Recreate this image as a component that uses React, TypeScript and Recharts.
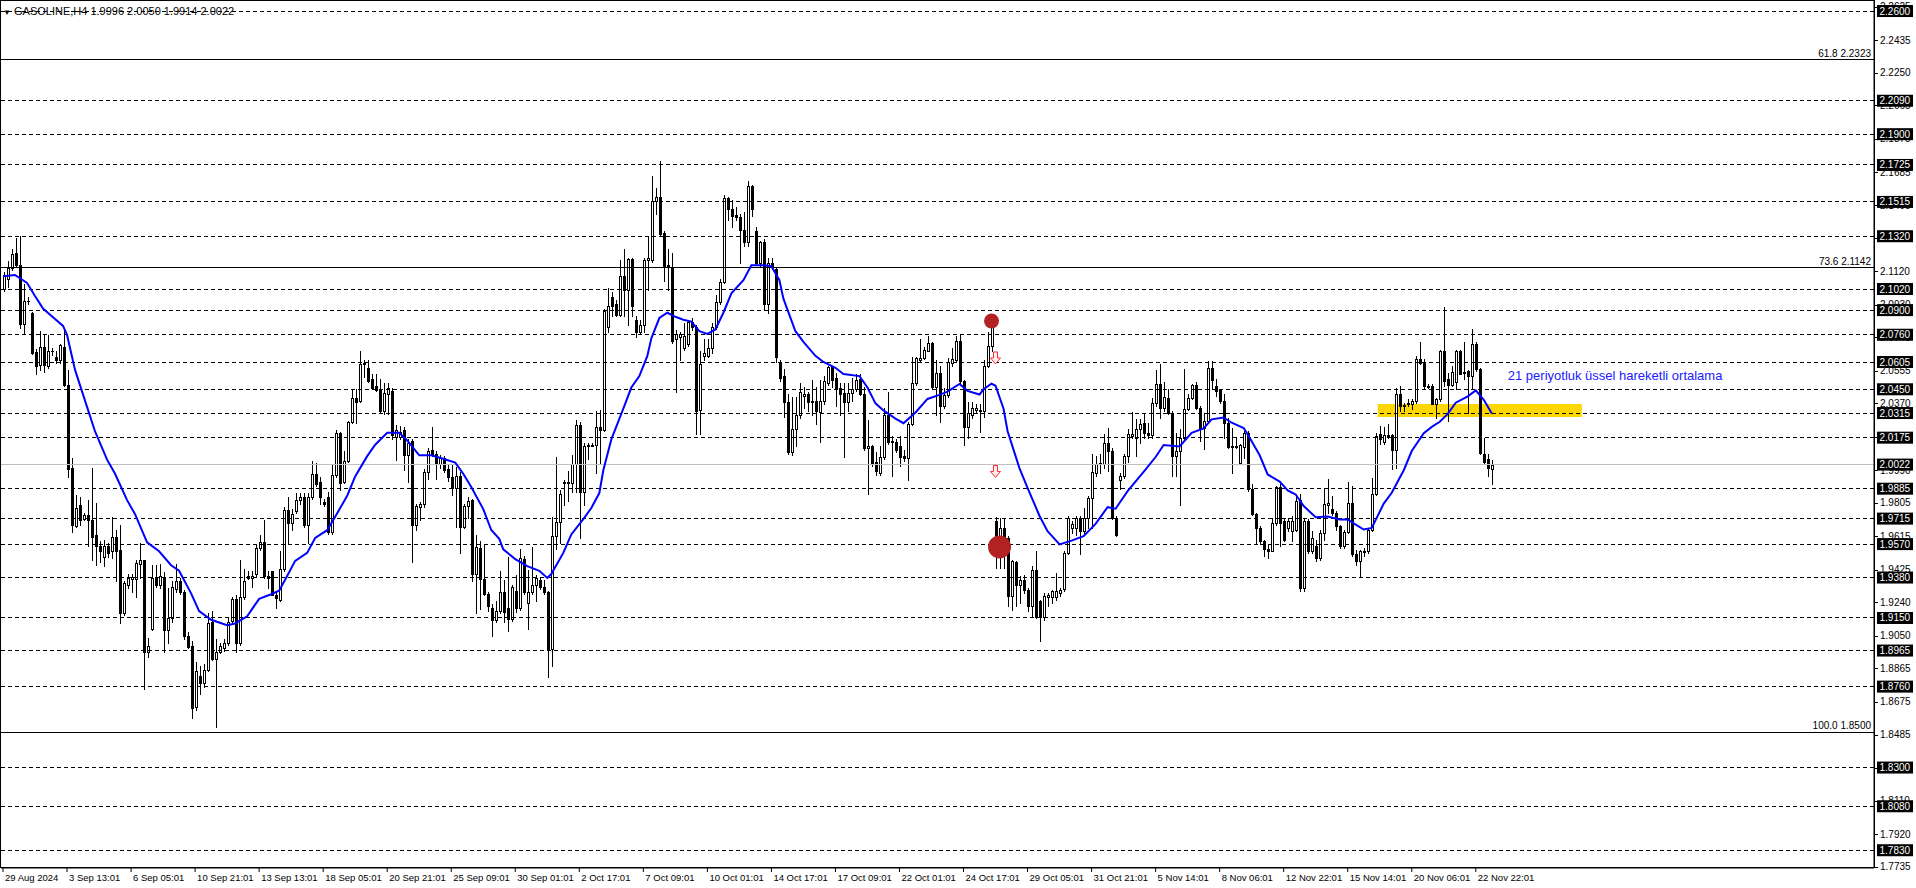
import React from 'react';
import { ComposedChart, Bar, Line, XAxis, YAxis, ReferenceLine, ReferenceArea, ReferenceDot } from 'recharts';

// GASOLINE H4 candles, prices stored as price x 10000
const opens = [
  21019,21079,21139,21223,21155,20819,20949,20883,20663,20589,20689,20583,20667,20635,20619,20689,20475,20003,19673,19793,
  19713,19737,19709,19623,19559,19499,19559,19529,19609,19539,19179,19339,19373,19369,19459,19479,18959,19089,19379,19339,
  19383,19079,19149,19313,19359,19299,19049,18989,18643,18819,18783,18855,19127,18919,18959,18979,19009,19135,19259,19009,
  19269,19379,19379,19399,19549,19583,19389,19419,19283,19255,19429,19763,19689,19759,19819,19839,19679,19839,19969,19923,
  19809,19839,19639,19963,20203,19923,20043,20263,20399,20383,20593,20569,20509,20467,20449,20329,20423,20439,20179,20179,
  20219,20075,20155,19679,19779,19799,19979,20103,20083,20023,20059,19999,19949,19889,19955,19669,19789,19819,19399,19549,
  19369,19289,19209,19139,19189,19295,19205,19145,19305,19205,19485,19235,19295,19335,19365,19325,19295,18975,19615,19695,
  19915,19915,19915,20025,20249,19865,20125,20129,20135,20235,20221,20805,20975,20935,20875,21095,21015,21189,20845,20775,
  20815,21185,21185,21521,21545,21341,21155,21145,20735,20745,20685,20705,20835,20805,20335,20641,20641,20685,20805,20945,
  21061,21535,21475,21441,21429,21355,21285,21605,21349,21165,21285,20935,21165,21135,20601,20525,20375,20095,20225,20305,
  20409,20421,20375,20385,20321,20385,20485,20575,20515,20455,20429,20375,20429,20449,20509,20425,20115,20129,20035,19975,
  20065,20305,20155,20149,20125,20071,20061,20255,20485,20615,20629,20669,20715,20465,20545,20355,20415,20601,20615,20725,
  20495,20235,20305,20335,20335,20325,20585,20695,19700,19568,19662,19606,19273,19469,19340,19368,19311,19216,19425,19245,
  19154,19268,19268,19268,19292,19315,19520,19659,19659,19719,19643,19719,19833,19976,20023,20027,20146,20099,19719,19932,
  19957,20071,20184,20175,20222,20260,20203,20190,20374,20479,20346,20399,20317,20071,20099,20175,20336,20399,20475,20346,
  20232,20270,20570,20469,20444,20384,20260,20122,20128,20033,20122,20203,19881,19742,19659,19587,19545,19533,19691,19894,
  19700,19659,19643,19653,19818,19321,19704,19530,19558,19492,19634,19795,19767,19748,19672,19558,19640,19805,19511,19473,
  19526,19530,19653,19852,20194,20152,20184,20190,20103,20425,20355,20365,20369,20384,20621,20602,20469,20469,20365,20393,
  20668,20507,20475,20494,20665,20545,20555,20526,20706,20564,20080,20052,19996,
];
const highs = [
  21119,21179,21249,21309,21319,21049,20975,20889,20679,20779,20759,20759,20687,20669,20709,20799,20559,20059,19849,19839,
  19745,19819,20003,19805,19589,19593,19579,19723,19649,19679,19359,19399,19399,19479,19579,19479,19039,19449,19449,19459,
  19409,19319,19359,19459,19379,19309,19069,19019,18899,18879,18889,19179,19189,19029,19009,19029,19149,19269,19279,19479,
  19429,19419,19419,19569,19619,19709,19419,19419,19299,19529,19779,19839,19769,19859,19859,19863,19859,20043,20029,19949,
  19829,19869,20019,20219,20209,20099,20269,20449,20449,20669,20619,20619,20539,20539,20509,20483,20483,20459,20249,20243,
  20235,20169,20169,19799,19809,19999,20119,20235,20099,20079,20069,20019,20019,20009,19979,19799,19839,19829,19619,19589,
  19569,19299,19229,19249,19419,19365,19495,19335,19395,19545,19505,19425,19555,19395,19375,19365,19305,19725,20065,19875,
  19935,19985,20075,20275,20265,20145,20145,20145,20325,20335,20905,21025,21005,20955,21185,21245,21195,21195,20865,20841,
  21195,21315,21665,21595,21745,21349,21245,21225,20785,20775,20825,20845,20855,20815,20669,20735,20735,20825,20985,21075,
  21555,21545,21525,21485,21445,21455,21635,21609,21375,21295,21305,21195,21195,21145,20615,20565,20425,20405,20405,20485,
  20465,20435,20505,20465,20505,20525,20585,20585,20545,20485,20485,20485,20515,20535,20535,20465,20275,20135,20095,20125,
  20345,20435,20185,20165,20185,20105,20265,20635,20635,20735,20689,20755,20721,20615,20585,20455,20625,20685,20755,20765,
  20505,20375,20375,20365,20365,20615,20775,20835,19725,19719,19719,19615,19482,19476,19387,19397,19321,19444,19530,19254,
  19292,19292,19311,19406,19321,19530,19729,19700,19729,19729,19776,19843,20084,20071,20080,20198,20232,20118,19729,19976,
  20084,20222,20323,20279,20279,20308,20260,20399,20558,20592,20494,20450,20327,20203,20222,20564,20422,20479,20494,20355,
  20317,20611,20611,20507,20450,20422,20289,20232,20175,20137,20213,20213,19909,19748,19672,19596,19567,19719,19900,19909,
  19710,19719,19729,19843,19852,19719,19710,19643,19596,19653,19881,19938,19843,19757,19681,19653,19924,19900,19539,19539,
  19549,19659,19947,20203,20241,20236,20255,20194,20456,20469,20374,20393,20393,20640,20716,20621,20479,20479,20403,20672,
  20919,20545,20583,20672,20672,20716,20558,20792,20721,20570,20175,20080,20050,
];
const lows = [
  21009,21029,21129,21149,20799,20769,20935,20649,20539,20559,20549,20569,20647,20599,20599,20469,19949,19639,19669,19679,
  19705,19559,19479,19449,19469,19443,19499,19489,19359,19123,19169,19319,19299,19269,19379,18749,18929,19079,19329,19319,
  18959,19009,19129,19299,19289,19029,18979,18579,18629,18719,18759,18849,18909,18529,18949,18963,18999,19129,18959,18999,
  19259,19369,19329,19389,19539,19379,19319,19279,19209,19249,19419,19579,19649,19749,19799,19669,19579,19829,19899,19799,
  19789,19629,19629,19949,19879,19919,20039,20259,20259,20379,20519,20489,20449,20439,20319,20309,20309,20169,20049,20169,
  19989,19923,19469,19649,19709,19779,19939,20069,19939,20003,19979,19929,19849,19669,19519,19659,19719,19359,19179,19199,
  19279,19189,19049,19129,19179,19125,19075,19135,19185,19195,19285,19085,19285,19245,19315,19285,18815,18875,19545,19575,
  19795,19815,19865,19865,19605,19795,20055,20125,19975,20025,20215,20775,20865,20865,20865,20865,20815,20865,20745,20765,
  20775,21015,21175,21445,21325,21065,21015,20715,20435,20615,20675,20695,20785,20195,20195,20615,20635,20655,20795,20935,
  21055,21415,21375,21415,21165,21265,21265,21435,21155,21145,20905,20885,21135,20605,20495,20295,20085,20075,20125,20285,
  20345,20325,20305,20255,20149,20365,20475,20465,20355,20305,20065,20325,20385,20441,20415,20105,19855,20015,19965,19965,
  20055,20141,19955,20095,20015,20045,19935,20245,20475,20605,20621,20665,20455,20305,20265,20345,20405,20585,20605,20485,
  20135,20175,20285,20315,20205,20295,20575,20665,19435,19435,19435,19216,19197,19216,19235,19292,19188,19159,19150,19017,
  19140,19216,19235,19254,19273,19302,19511,19634,19624,19511,19624,19662,19662,19957,19976,20004,19985,19710,19615,19881,
  19947,20038,20175,20071,20146,20175,20175,20175,20355,20289,20327,20308,19957,19957,19795,20165,20330,20393,20336,20156,
  20108,20260,20460,20412,20374,20175,20118,19976,20118,20023,20061,19871,19738,19577,19568,19501,19492,19530,19681,19558,
  19587,19643,19587,19643,19302,19302,19520,19520,19473,19482,19596,19748,19738,19653,19549,19549,19634,19501,19454,19387,
  19501,19520,19643,19848,20137,20141,20175,19995,20004,20327,20327,20355,20336,20374,20596,20460,20460,20365,20289,20384,
  20469,20270,20469,20450,20535,20507,20317,20460,20555,20080,20033,19957,19914,
];
const closes = [
  21099,21139,21219,21155,20823,20949,20953,20659,20583,20689,20589,20669,20667,20619,20699,20475,19999,19679,19773,19709,
  19735,19709,19609,19559,19529,19559,19519,19609,19529,19179,19349,19379,19383,19463,19479,18959,18989,19379,19339,19389,
  19079,19149,19329,19359,19299,19049,18983,18639,18849,18779,18855,19123,18919,18959,18989,19009,19129,19259,19009,19269,
  19363,19389,19389,19549,19583,19389,19379,19283,19263,19429,19763,19689,19739,19819,19839,19679,19839,19969,19909,19839,
  19799,19639,19963,20199,19919,20043,20263,20399,20379,20593,20599,20499,20459,20447,20329,20429,20455,20189,20219,20209,
  20075,20143,19679,19789,19799,19979,20099,20079,20023,20059,19989,19949,19889,19955,19669,19789,19815,19399,19555,19369,
  19289,19219,19139,19189,19299,19185,19145,19325,19205,19489,19295,19295,19335,19375,19325,19295,18975,19615,19695,19855,
  19921,19925,20025,20249,19865,20125,20135,20135,20235,20221,20895,20925,20925,20875,21095,21015,21189,20925,20775,20815,
  21185,21195,21521,21545,21335,21145,21145,20725,20765,20765,20755,20835,20805,20325,20595,20655,20685,20805,20945,21061,
  21535,21475,21435,21429,21355,21285,21605,21475,21165,21285,20935,21165,21149,20635,20515,20375,20095,20225,20305,20435,
  20421,20375,20385,20325,20385,20495,20575,20505,20455,20425,20375,20429,20449,20505,20421,20115,20129,20025,19985,20065,
  20305,20149,20149,20105,20065,20061,20255,20485,20625,20629,20675,20715,20465,20545,20355,20415,20605,20621,20725,20495,
  20235,20315,20341,20345,20325,20585,20695,20805,19580,19662,19606,19273,19473,19340,19368,19311,19216,19425,19154,19154,
  19273,19283,19302,19302,19311,19520,19719,19685,19719,19643,19719,19833,19981,20023,20029,20146,20099,19719,19624,19957,
  20071,20198,20198,20222,20255,20203,20190,20374,20479,20346,20406,20317,20071,20099,20175,20336,20399,20475,20346,20232,
  20270,20570,20501,20441,20384,20260,20122,20128,20122,20133,20203,19881,19742,19659,19587,19545,19533,19691,19894,19691,
  19596,19704,19704,19814,19321,19704,19530,19606,19492,19634,19799,19805,19748,19672,19558,19640,19805,19511,19473,19530,
  19533,19653,19852,20184,20165,20190,20190,20103,20425,20355,20361,20374,20384,20621,20602,20469,20463,20369,20393,20668,
  20498,20475,20551,20665,20539,20551,20526,20706,20564,20089,20038,20004,20022,
];

// 21-period exponential moving average at these bars
const emaBars = [
  0,3,6,8,10,13,15,16,18,21,23,26,28,31,33,36,39,42,44,47,49,52,56,58,61,64,67,69,71,73,76,78,81,83,86,88,91,93,96,99,
  101,104,107,110,113,115,117,120,122,124,125,128,131,134,136,137,140,142,145,147,149,150,152,155,157,159,161,162,164,166,
  168,170,172,174,176,178,180,182,185,187,190,192,194,195,198,200,203,205,208,210,214,216,218,220,223,225,228,231,234,236,
  239,241,244,245,247,248,250,251,254,256,259,261,264,267,270,273,276,278,281,285,288,290,294,297,300,302,305,307,310,311,
  314,316,319,321,323,325,328,331,334,336,338,340,342,345,347,350,352,355,357,359,361,363,366,368,370,372,
];
const emaVals = [
  21093,21100,21055,20980,20909,20850,20810,20759,20560,20350,20210,20050,19970,19820,19740,19580,19529,19450,19419,19290,
  19189,19140,19109,19119,19160,19259,19285,19305,19389,19475,19520,19605,19649,19725,19845,19955,20070,20135,20203,20203,
  20159,20075,20075,20055,20033,19970,19895,19769,19650,19600,19540,19485,19445,19418,19378,19400,19520,19625,19712,19775,
  19860,19990,20165,20340,20460,20525,20640,20740,20855,20885,20862,20845,20835,20780,20765,20790,20885,20995,21070,21155,
  21155,21150,21070,20965,20780,20720,20640,20605,20572,20537,20525,20460,20370,20330,20283,20257,20318,20395,20418,20437,
  20480,20441,20420,20450,20482,20470,20340,20213,20000,19890,19730,19643,19568,19590,19615,19685,19780,19771,19871,19980,
  20065,20133,20125,20203,20228,20279,20290,20260,20230,20194,20075,19966,19925,19875,19852,19786,19723,19727,19710,19710,
  19681,19653,19662,19800,19862,19990,20099,20200,20236,20265,20310,20374,20410,20444,20390,20312,
];

const timeLabels = [
  '29 Aug 2024', '3 Sep 13:01', '6 Sep 05:01', '10 Sep 21:01', '13 Sep 13:01', '18 Sep 05:01', '20 Sep 21:01',
  '25 Sep 09:01', '30 Sep 01:01', '2 Oct 17:01', '7 Oct 09:01', '10 Oct 01:01', '14 Oct 17:01', '17 Oct 09:01',
  '22 Oct 01:01', '24 Oct 17:01', '29 Oct 05:01', '31 Oct 21:01', '5 Nov 14:01', '8 Nov 06:01', '12 Nov 22:01',
  '15 Nov 14:01', '20 Nov 06:01', '22 Nov 22:01',
];

const priceTicks = [
  2.2625, 2.2435, 2.225, 2.2065, 2.1875, 2.1685, 2.1495, 2.131, 2.112, 2.093, 2.0745, 2.0555, 2.037, 2.018, 1.999,
  1.9805, 1.9615, 1.9425, 1.924, 1.905, 1.8865, 1.8675, 1.8485, 1.8295, 1.811, 1.792, 1.7735,
];

const levelLines = [
  2.26, 2.209, 2.19, 2.1725, 2.1515, 2.132, 2.102, 2.09, 2.076, 2.0605, 2.045, 2.0315, 2.0175, 1.9885, 1.9715, 1.957,
  1.938, 1.915, 1.8965, 1.876, 1.83, 1.808, 1.783,
];
const fiboLevels = [2.2323, 2.1142, 1.85];
const fiboNames = ['61.8', '73.6', '100.0'];
const bidPrice = 2.0022;

const symbolTitle = 'GASOLINE,H4  1.9996 2.0050 1.9914 2.0022';
const emaNote = '21 periyotluk üssel hareketli ortalama';

const SLOTS = 468;
const LABEL_EVERY = 16;
const FONT = '"Liberation Sans", Arial, sans-serif';

const chartData = Array.from({ length: SLOTS }, (_, i) => {
  const k = emaBars.indexOf(i);
  const ema = k >= 0 ? emaVals[k] / 1e4 : null;
  if (i >= closes.length) return { i, range: null, ema };
  return {
    i,
    o: opens[i] / 1e4,
    h: highs[i] / 1e4,
    l: lows[i] / 1e4,
    c: closes[i] / 1e4,
    range: [lows[i] / 1e4, highs[i] / 1e4],
    ema,
  };
});

const timeTicks = timeLabels.map((_, k) => k * LABEL_EVERY);

function Candle(props: any) {
  const { x, y, width, height, payload } = props;
  if (!payload || payload.c == null) return null;
  const { o, h, l, c } = payload;
  const y0 = Math.min(y, y + height);
  const y1 = Math.max(y, y + height);
  const span = h - l;
  const toY = (v: number) => (span > 0 ? y0 + ((h - v) / span) * (y1 - y0) : y0);
  const cx = Math.round(x + width / 2);
  const top = Math.round(toY(Math.max(o, c)));
  const bot = Math.round(toY(Math.min(o, c)));
  const bull = c >= o;
  return (
    <g shapeRendering="crispEdges">
      <line x1={cx + 0.5} x2={cx + 0.5} y1={Math.round(y0)} y2={Math.round(y1) + 1} stroke="#000" />
      {bot - top < 1 ? (
        <line x1={cx - 1} x2={cx + 2} y1={top + 0.5} y2={top + 0.5} stroke="#000" />
      ) : (
        <rect x={cx - 0.5} y={top + 0.5} width={2} height={bot - top} fill={bull ? '#fff' : '#000'} stroke="#000" />
      )}
    </g>
  );
}

function TimeTick(props: any) {
  const { x, y, payload } = props;
  const text = timeLabels[Math.round(payload.value / LABEL_EVERY)];
  return (
    <text x={x + 2} y={y + 9} fontSize={9.5} fontFamily={FONT} fill="#000">
      {text}
    </text>
  );
}

// plain price-scale label with its small tick mark, drawn right of the plot
function tickLabel(value: number) {
  return (props: any) => {
    const vb = props.viewBox || {};
    const ax = vb.x + vb.width;
    const ty = Math.round(vb.y) + 0.5;
    return (
      <g>
        <line x1={ax} x2={ax + 4} y1={ty} y2={ty} stroke="#000" shapeRendering="crispEdges" />
        <text x={ax + 6} y={vb.y + 3.5} fill="#000" fontSize={10} fontFamily={FONT}>
          {value.toFixed(4)}
        </text>
      </g>
    );
  };
}

function boxLabel(value: number) {
  return (props: any) => {
    const vb = props.viewBox || {};
    const bx = vb.x + vb.width + 3;
    const by = vb.y;
    return (
      <g>
        <rect x={bx} y={by - 6} width={36} height={12} fill="#000" />
        <text x={bx + 2.5} y={by + 3.5} fill="#fff" fontSize={10} fontFamily={FONT}>
          {value.toFixed(4)}
        </text>
      </g>
    );
  };
}

function fiboLabel(name: string, value: number) {
  return (props: any) => {
    const vb = props.viewBox || {};
    return (
      <text x={vb.x + vb.width - 3} y={vb.y - 3} textAnchor="end" fill="#000" fontSize={10} fontFamily={FONT}>
        {`${name} ${value.toFixed(4)}`}
      </text>
    );
  };
}

function DownArrow(props: any) {
  const { cx, cy } = props;
  return (
    <path
      d={`M${cx - 2},${cy - 6} h4 v6 h3 l-5,6 l-5,-6 h3 z`}
      fill="#fff0f0"
      stroke="#ff2a2a"
      strokeWidth={1}
    />
  );
}

function NoteText(props: any) {
  const { cx, cy } = props;
  return (
    <text x={cx} y={cy + 4.5} fill="#2020ff" fontSize={13} fontFamily={FONT}>
      {emaNote}
    </text>
  );
}

export default function App() {
  return (
    <div style={{ position: 'fixed', left: 0, top: 0, width: 1916, height: 888, background: '#fff' }}>
      <ComposedChart
        width={1916}
        height={888}
        data={chartData}
        margin={{ top: 1, right: 0, left: 1, bottom: 0 }}
      >
        <XAxis
          dataKey="i"
          type="category"
          ticks={timeTicks}
          interval={0}
          tick={<TimeTick />}
          tickSize={4}
          tickMargin={0}
          tickLine={{ stroke: '#000' }}
          axisLine={{ stroke: '#000' }}
          height={20}
        />
        <YAxis
          orientation="right"
          type="number"
          domain={[1.7729, 2.2657]}
          allowDataOverflow
          ticks={priceTicks}
          tick={false}
          tickLine={false}
          axisLine={{ stroke: '#000' }}
          width={42}
        />
        {priceTicks.map((v) => (
          <ReferenceLine key={`t${v}`} y={v} stroke="none" label={tickLabel(v)} />
        ))}
        <ReferenceArea x1={344} x2={394} y1={2.0292} y2={2.0366} fill="#ffd700" fillOpacity={1} stroke="none" />
        {levelLines.map((v) => (
          <ReferenceLine
            key={v}
            y={v}
            stroke="#000"
            strokeDasharray="4 3"
            shapeRendering="crispEdges"
            label={boxLabel(v)}
          />
        ))}
        {fiboLevels.map((v, k) => (
          <ReferenceLine key={`f${v}`} y={v} stroke="#000" shapeRendering="crispEdges" label={fiboLabel(fiboNames[k], v)} />
        ))}
        <ReferenceLine y={bidPrice} stroke="#c0c0c0" shapeRendering="crispEdges" label={boxLabel(bidPrice)} />
        <ReferenceDot x={247} y={2.0838} r={7.5} fill="#b22222" stroke="none" />
        <ReferenceDot x={249} y={1.9554} r={11.5} fill="#b22222" stroke="none" />
        <Bar dataKey="range" shape={(p: any) => <Candle {...p} />} isAnimationActive={false} barSize={3} />
        <Line
          dataKey="ema"
          type="linear"
          stroke="#0000ff"
          strokeWidth={2}
          dot={false}
          activeDot={false}
          connectNulls
          isAnimationActive={false}
        />
        <ReferenceDot x={248} y={2.0628} r={6} shape={(p: any) => <DownArrow {...p} />} />
        <ReferenceDot x={248} y={1.9983} r={6} shape={(p: any) => <DownArrow {...p} />} />
        <ReferenceDot x={376} y={2.0527} r={1} shape={(p: any) => <NoteText {...p} />} />
        <rect x={0.5} y={0.5} width={1873.5} height={867} fill="none" stroke="#000" shapeRendering="crispEdges" />
        <text x={3} y={15} fontSize={11} fontFamily={FONT} fill="#000">
          <tspan fontSize={8}>▼</tspan> {symbolTitle}
        </text>
      </ComposedChart>
    </div>
  );
}
